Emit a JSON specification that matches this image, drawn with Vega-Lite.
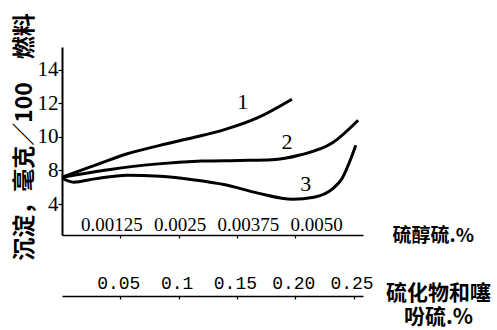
{
  "$schema": "https://vega.github.io/schema/vega-lite/v6.json",
  "width": 301,
  "height": 188,
  "autosize": {"type": "none"},
  "padding": {"left": 62, "top": 47, "right": 134, "bottom": 95},
  "background": "white",
  "config": {
    "view": {"stroke": null},
    "axis": {
      "grid": false,
      "domainColor": "black",
      "tickColor": "black",
      "labelColor": "black",
      "titleColor": "black",
      "labelFlush": false,
      "labelOverlap": false
    }
  },
  "datasets": {
    "curves": [
      {"curve": "1", "thiol": 0, "deposit": 7.6},
      {"curve": "1", "thiol": 0.0007, "deposit": 8.3},
      {"curve": "1", "thiol": 0.0014, "deposit": 9.0},
      {"curve": "1", "thiol": 0.0021, "deposit": 9.5},
      {"curve": "1", "thiol": 0.0028, "deposit": 9.95},
      {"curve": "1", "thiol": 0.0035, "deposit": 10.45},
      {"curve": "1", "thiol": 0.0042, "deposit": 11.15},
      {"curve": "1", "thiol": 0.00493, "deposit": 12.25},
      {"curve": "2", "thiol": 0, "deposit": 7.6},
      {"curve": "2", "thiol": 0.001, "deposit": 8.05},
      {"curve": "2", "thiol": 0.002, "deposit": 8.38},
      {"curve": "2", "thiol": 0.003, "deposit": 8.56},
      {"curve": "2", "thiol": 0.0038, "deposit": 8.6},
      {"curve": "2", "thiol": 0.0045, "deposit": 8.64},
      {"curve": "2", "thiol": 0.0051, "deposit": 8.92},
      {"curve": "2", "thiol": 0.0058, "deposit": 9.65},
      {"curve": "2", "thiol": 0.00635, "deposit": 11.0},
      {"curve": "3", "thiol": 0, "deposit": 7.55},
      {"curve": "3", "thiol": 0.00025, "deposit": 7.3},
      {"curve": "3", "thiol": 0.0007, "deposit": 7.5},
      {"curve": "3", "thiol": 0.0014, "deposit": 7.72},
      {"curve": "3", "thiol": 0.0021, "deposit": 7.65},
      {"curve": "3", "thiol": 0.0028, "deposit": 7.45},
      {"curve": "3", "thiol": 0.0035, "deposit": 7.15},
      {"curve": "3", "thiol": 0.0042, "deposit": 6.65},
      {"curve": "3", "thiol": 0.00495, "deposit": 6.28},
      {"curve": "3", "thiol": 0.0054, "deposit": 6.4},
      {"curve": "3", "thiol": 0.0058, "deposit": 6.9},
      {"curve": "3", "thiol": 0.006, "deposit": 7.5},
      {"curve": "3", "thiol": 0.0063, "deposit": 9.5}
    ],
    "curveLabels": [
      {"curve": "1", "sulfide": 0.155, "deposit": 12.09},
      {"curve": "2", "sulfide": 0.193, "deposit": 9.7},
      {"curve": "3", "sulfide": 0.209, "deposit": 7.19}
    ]
  },
  "layer": [
    {
      "data": {"name": "curves"},
      "mark": {"type": "line", "interpolate": "monotone", "strokeWidth": 3, "color": "black"},
      "encoding": {
        "x": {
          "field": "thiol",
          "type": "quantitative",
          "scale": {"domain": [0, 0.006454], "nice": false, "zero": false},
          "axis": {
            "orient": "bottom",
            "values": [0.00125, 0.0025, 0.00375, 0.005],
            "labelExpr": "datum.value > 0.0045 ? '0.0050' : format(datum.value, '.5~f')",
            "labelFont": "Liberation Serif",
            "labelFontSize": 19,
            "labelBaseline": "alphabetic",
            "labelPadding": -8,
            "labelOffset": {"expr": "datum.index * 30 - 9"},
            "tickSize": 3,
            "tickWidth": 1.2,
            "domainWidth": 1.5,
            "title": "硫醇硫.%",
            "titleFont": "Noto Sans CJK SC",
            "titleFontSize": 19,
            "titleFontWeight": "bold",
            "titleAngle": 0,
            "titleAlign": "left",
            "titleBaseline": "middle",
            "titleX": 330,
            "titleY": 0
          }
        },
        "y": {
          "field": "deposit",
          "type": "quantitative",
          "scale": {"domain": [4.15, 15.37], "nice": false, "zero": false},
          "axis": {
            "values": [6, 8, 10, 12, 14],
            "labelExpr": "datum.value == 6 ? '4' : datum.label",
            "labelFont": "Liberation Serif",
            "labelFontSize": 21,
            "labelPadding": 0,
            "tickSize": 4,
            "tickWidth": 1.2,
            "domainWidth": 2,
            "title": "沉淀，毫克／100　燃料",
            "titleFont": "Noto Sans CJK SC",
            "titleFontSize": 23,
            "titleFontWeight": "bold",
            "titleAngle": 270,
            "titleAlign": "center",
            "titleBaseline": "middle",
            "titleX": -38,
            "titleY": 89.5
          }
        },
        "detail": {"field": "curve"}
      }
    },
    {
      "data": {"name": "curveLabels"},
      "mark": {"type": "text", "font": "Liberation Serif", "fontSize": 22, "color": "black"},
      "encoding": {
        "x": {
          "field": "sulfide",
          "type": "quantitative",
          "scale": {"domain": [0, 0.2581], "nice": false, "zero": false},
          "axis": {
            "orient": "bottom",
            "offset": 61,
            "values": [0.05, 0.1, 0.15, 0.2, 0.25],
            "labelExpr": "abs(datum.value - 0.1) < 0.001 ? '0.1' : format(datum.value, '.2f')",
            "labelFont": "Liberation Mono",
            "labelFontSize": 18,
            "labelBaseline": "alphabetic",
            "labelPadding": -11,
            "labelOffset": -2,
            "tickSize": 3,
            "tickWidth": 1.2,
            "domainWidth": 1.5,
            "title": ["硫化物和噻", "吩硫.%"],
            "titleFont": "Noto Sans CJK SC",
            "titleFontSize": 21,
            "titleFontWeight": "bold",
            "titleLineHeight": 24,
            "titleAngle": 0,
            "titleAlign": "center",
            "titleBaseline": "top",
            "titleX": 376,
            "titleY": -14
          }
        },
        "y": {"field": "deposit", "type": "quantitative"},
        "text": {"field": "curve"}
      }
    }
  ],
  "resolve": {"scale": {"x": "independent"}}
}
